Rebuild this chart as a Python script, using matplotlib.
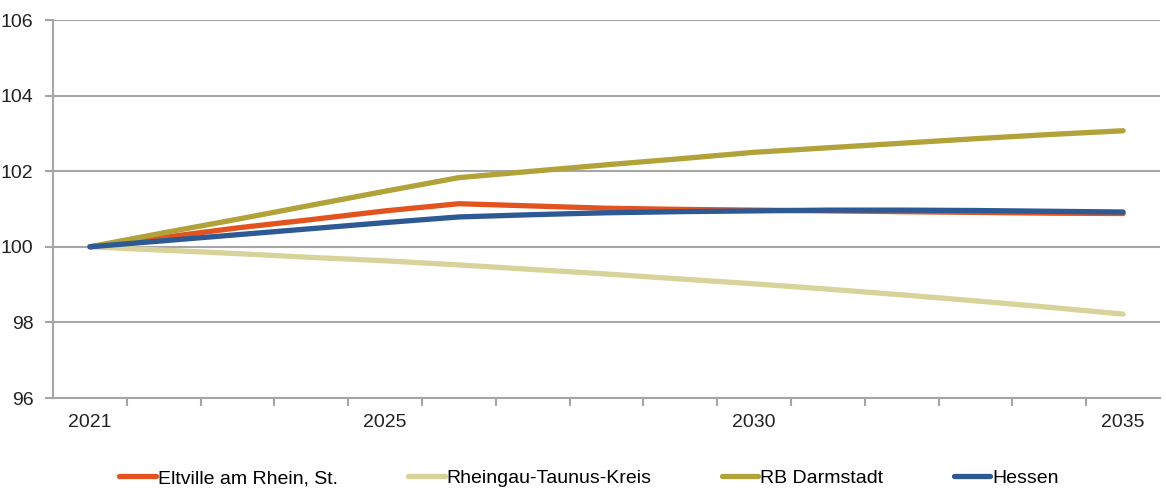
import matplotlib
matplotlib.use("Agg")
import matplotlib.pyplot as plt
from matplotlib.ticker import FixedLocator, NullFormatter

years = list(range(2021, 2036))
labelled_years = [2021, 2025, 2030, 2035]

eltville = [100.0, 100.25, 100.5, 100.72, 100.95, 101.14, 101.08, 101.02,
            100.99, 100.97, 100.95, 100.93, 100.91, 100.89, 100.88]
rheingau = [100.0, 99.91, 99.82, 99.72, 99.63, 99.52, 99.4, 99.28,
            99.15, 99.02, 98.88, 98.73, 98.57, 98.4, 98.22]
darmstadt = [100.0, 100.37, 100.73, 101.1, 101.47, 101.83, 102.0, 102.17,
             102.33, 102.5, 102.62, 102.74, 102.86, 102.97, 103.07]
hessen = [100.0, 100.16, 100.32, 100.48, 100.64, 100.79, 100.85, 100.9,
          100.93, 100.95, 100.97, 100.97, 100.96, 100.94, 100.92]

series_names = ["Eltville am Rhein, St.", "Rheingau-Taunus-Kreis", "RB Darmstadt", "Hessen"]
series_values = [eltville, rheingau, darmstadt, hessen]
series_colors = ["#E2531F", "#D8D29B", "#B1A23A", "#2D5A94"]

plt.rcParams['font.family'] = ['Liberation Sans Narrow', 'Liberation Sans', 'DejaVu Sans']

fig = plt.figure(figsize=(11.66, 4.9), dpi=100)
ax = fig.add_axes([53 / 1166, 1 - 398 / 490, (1160 - 53) / 1166, (398 - 20) / 490])

x = list(range(len(years)))
# draw order: light ones first so blue sits on top
for i in [1, 2, 0, 3]:
    ax.plot(x, series_values[i], color=series_colors[i], lw=3.8,
            solid_capstyle='round', solid_joinstyle='round',
            label=series_names[i], zorder=3 + i)

ax.set_xlim(-0.5, len(years) - 0.5)
ax.set_ylim(96, 106)
ax.set_yticks([96, 98, 100, 102, 104, 106])

# category axis: tick marks between categories, labels on selected years
ax.xaxis.set_major_locator(FixedLocator([k + 0.5 for k in range(len(years) - 1)]))
ax.xaxis.set_major_formatter(NullFormatter())
for yr in labelled_years:
    ax.text(years.index(yr), -0.065, str(yr), transform=ax.get_xaxis_transform(),
            ha='center', va='center', fontsize=14, color='#222222')

ax.grid(axis='y', color='#a6a6a6', lw=1.5)
ax.set_axisbelow(True)
for side in ['top', 'right']:
    ax.spines[side].set_visible(False)
for side in ['left', 'bottom']:
    ax.spines[side].set_color('#a6a6a6')
    ax.spines[side].set_linewidth(1.5)
ax.tick_params(axis='y', length=6, width=1.5, color='#a6a6a6', labelsize=14,
               labelcolor='#222222', pad=8)
ax.tick_params(axis='x', length=6, width=1.5, color='#a6a6a6')

handles, labels = ax.get_legend_handles_labels()
order = [labels.index(n) for n in series_names]
fig.legend([handles[k] for k in order], [labels[k] for k in order],
           loc='center', bbox_to_anchor=(0.505, 0.024), ncol=4, frameon=False,
           fontsize=14, handlelength=1.9, handletextpad=0.1, columnspacing=3.6)

fig.savefig("out.png", dpi=100)
